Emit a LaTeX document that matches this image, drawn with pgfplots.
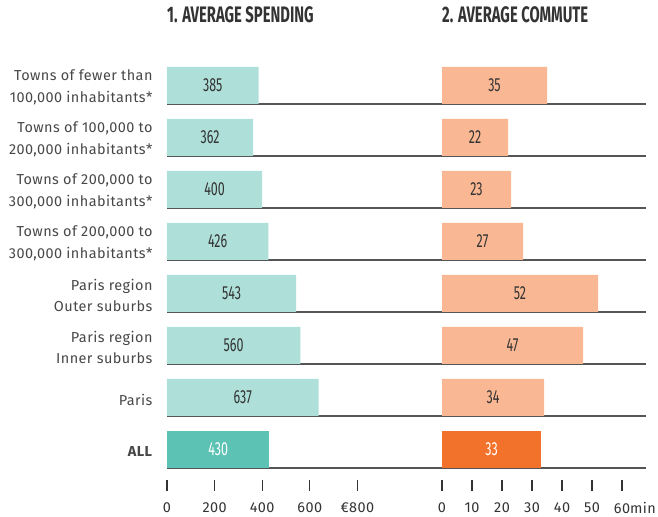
\documentclass[border=0pt]{standalone}
\usepackage{fontspec}
\setmainfont{Fira Sans}
\newfontfamily\condfont[FakeStretch=0.66]{Fira Sans}
\newfontfamily\labelfont[LetterSpace=3]{Fira Sans}
\usepackage{pgfplots}
\pgfplotsset{compat=1.18}

\definecolor{tealLight}{HTML}{AEE0D9}
\definecolor{tealDark}{HTML}{5CC2B4}
\definecolor{orangeLight}{HTML}{F9B893}
\definecolor{orangeDark}{HTML}{F2722B}
\definecolor{txt}{HTML}{333333}
\definecolor{rule}{HTML}{555555}

\pgfplotsset{
  panel/.style={
    scale only axis, anchor=south west,
    height=420.5bp,
    xbar, bar width=37bp,
    ymin=-0.5, ymax=7.587, y dir=reverse,
    axis line style={draw=none},
    tick align=outside, xtick pos=bottom, ytick pos=left,
    major tick length=11bp,
    x tick style={line width=1.2bp, color=txt},
    xticklabel style={font=\labelfont\fontsize{14.5}{16}\selectfont, text=txt, yshift=-8bp},
    title style={at={(0,1)}, anchor=base west, yshift=31.5bp,
      font=\condfont\bfseries\fontsize{22.5}{24}\selectfont, text=txt, inner xsep=0pt},
    /pgf/number format/assume math mode=true,
    clip=false,
  },
  vals/.style={
    nodes near coords,
    visualization depends on={rawx \as \rawx},
    every node near coord/.append style={anchor=center, xshift=-#1*\rawx,
      font=\condfont\fontsize{19}{20}\selectfont},
  },
}

\begin{document}
\begin{tikzpicture}
\useasboundingbox (-167bp,-37bp) rectangle (491bp,480bp);

% 1. spending
\begin{axis}[panel, at={(0,0)},
  width=479bp, xmin=0, xmax=2012.6,
  title={1. AVERAGE SPENDING},
  xtick={0,200,400,600,800},
  xticklabels={0,200,400,600,€800},
  ytick={0,...,7},
  yticklabels={{Towns of fewer than\\100,000 inhabitants*},
    {Towns of 100,000 to\\200,000 inhabitants*},
    {Towns of 200,000 to\\300,000 inhabitants*},
    {Towns of 200,000 to\\300,000 inhabitants*},
    {Paris region\\Outer suburbs},
    {Paris region\\Inner suburbs},
    Paris,
    \textbf{ALL}},
  y tick style={draw=none},
  yticklabel style={align=right, font=\labelfont\fontsize{14.5}{22}\selectfont,
    text=txt!90, xshift=0bp, yshift=-2bp},
  extra y ticks={0.356,1.356,2.356,3.356,4.356,5.356,6.356,7.356},
  extra y tick labels={},
  extra y tick style={grid=major, major grid style={rule, line width=1.3bp}, tick style={draw=none}},
]
\addplot[fill=tealLight, draw=none, bar shift=0pt, vals=0.119bp,
  every node near coord/.append style={text=txt}]
  coordinates {(385,0) (362,1) (400,2) (426,3) (543,4) (560,5) (637,6)};
\addplot[fill=tealDark, draw=none, bar shift=0pt, vals=0.119bp,
  every node near coord/.append style={text=white}]
  coordinates {(430,7)};
\end{axis}

% 2. commute
\begin{axis}[panel, at={(275bp,0)},
  width=204bp, xmin=0, xmax=68,
  title={2. AVERAGE COMMUTE},
  xtick={0,10,20,30,40,50,60},
  xticklabels={0,10,20,30,40,50,60\rlap{min}},
  ytick=\empty,
]
\addplot[fill=orangeLight, draw=none, bar shift=0pt, vals=1.5bp,
  every node near coord/.append style={text=txt}]
  coordinates {(35,0) (22,1) (23,2) (27,3) (52,4) (47,5) (34,6)};
\addplot[fill=orangeDark, draw=none, bar shift=0pt, vals=1.5bp,
  every node near coord/.append style={text=white}]
  coordinates {(33,7)};
\end{axis}
\end{tikzpicture}
\end{document}
